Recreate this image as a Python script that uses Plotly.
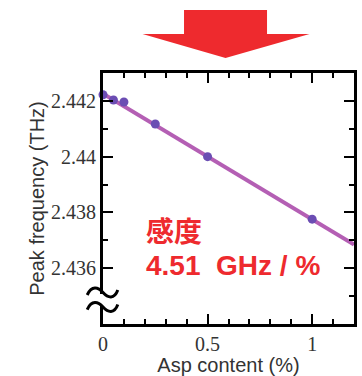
import plotly.graph_objects as go

# Data
asp_content = [0, 0.05, 0.1, 0.25, 0.5, 1.0]
peak_freq = [2.44222, 2.44203, 2.44196, 2.44117, 2.44000, 2.43776]
fit_x = [0, 1.2]
fit_y = [2.44226, 2.43685]
y_tickvals = [2.436, 2.438, 2.44, 2.442]
y_ticktext = ["2.436", "2.438", "2.44", "2.442"]
x_tickvals = [0, 0.5, 1]
x_ticktext = ["0", "0.5", "1"]

RED = "#ee2a2e"
SERIF = "Liberation Serif, Times New Roman, serif"
SANS = "Liberation Sans, Arial, sans-serif"

fig = go.Figure()
fig.add_trace(go.Scatter(x=fit_x, y=fit_y, mode="lines",
                         line=dict(color="#b45fb4", width=4), hoverinfo="skip"))
fig.add_trace(go.Scatter(x=asp_content, y=peak_freq, mode="markers", cliponaxis=False,
                         marker=dict(color="#6b4db3", size=9)))

axis_common = dict(showline=True, linecolor="black", linewidth=3, mirror="allticks",
                   ticks="inside", tickcolor="black", tickwidth=1.5, ticklen=10,
                   showgrid=False, zeroline=False,
                   tickfont=dict(family=SERIF, size=20, color="#333"))

fig.update_xaxes(range=[0, 1.2], tickvals=x_tickvals, ticktext=x_ticktext,
                 minor=dict(ticks="inside", dtick=0.1, tick0=0, ticklen=5, tickcolor="black", tickwidth=1.5),
                 title=dict(text="Asp content (%)", standoff=1,
                            font=dict(family=SANS, size=20, color="#333")),
                 **axis_common)
fig.update_yaxes(range=[2.434, 2.443], tickvals=y_tickvals, ticktext=y_ticktext,
                 minor=dict(ticks="inside", dtick=0.001, tick0=2.434, ticklen=5, tickcolor="black", tickwidth=1.5),
                 title=dict(text="Peak frequency (THz)", standoff=2,
                            font=dict(family=SANS, size=20, color="#333")),
                 **axis_common)

# Red arrow at top
fig.add_shape(type="path", xref="paper", yref="paper",
              path="M 0.3228 1.251 L 0.6535 1.251 L 0.6535 1.1554 L 0.8228 1.1554 "
                   "L 0.4882 1.0598 L 0.1575 1.1554 L 0.3228 1.1554 Z",
              fillcolor=RED, line=dict(width=0), layer="above")

# Axis break marks on left axis
fig.add_shape(type="rect", xref="paper", yref="paper", x0=-0.025, x1=0.025, y0=0.0757, y1=0.1195,
              fillcolor="white", line=dict(width=0), layer="above")
for yc in (0.1255, 0.0677):
    fig.add_shape(type="path", xref="paper", yref="paper",
                  path=(f"M -0.063 {yc-0.010:.4f} C -0.045 {yc+0.028:.4f}, -0.02 {yc+0.022:.4f}, 0 {yc:.4f} "
                        f"S 0.045 {yc-0.028:.4f}, 0.059 {yc+0.010:.4f}"),
                  line=dict(color="black", width=3), layer="above")

fig.add_annotation(x=0.163, y=0.3745, xref="paper", yref="paper", text="<b>感度</b>",
                   showarrow=False, xanchor="left", yanchor="middle",
                   font=dict(family="Noto Sans CJK JP, sans-serif", size=28, color=RED))
fig.add_annotation(x=0.163, y=0.235, xref="paper", yref="paper", text="<b>4.51&nbsp;&nbsp;GHz / %</b>",
                   showarrow=False, xanchor="left", yanchor="middle",
                   font=dict(family=SANS, size=28, color=RED))

fig.update_layout(width=362, height=376, margin=dict(l=103, r=5, t=73, b=52),
                  plot_bgcolor="white", paper_bgcolor="white", showlegend=False)

fig.write_html("out.html", config={"displayModeBar": False},
               post_script="document.body.style.margin='0px';")
